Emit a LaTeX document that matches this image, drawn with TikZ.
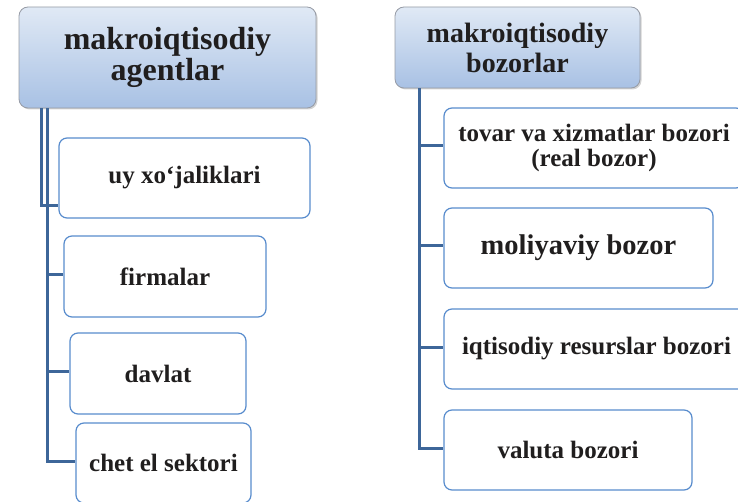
\documentclass[tikz,border=0pt]{standalone}
\usepackage{fontspec}
\setmainfont{Liberation Serif}
\usetikzlibrary{shadows}
\definecolor{boxblue}{RGB}{88,140,205}
\definecolor{linkblue}{RGB}{61,102,153}
\definecolor{headtop}{RGB}{224,233,245}
\definecolor{headbot}{RGB}{168,193,228}
\definecolor{headrim}{RGB}{150,155,165}
\definecolor{inktext}{RGB}{32,30,30}

\begin{document}
\begin{tikzpicture}[x=1pt, y=-1pt,
    header/.style={draw=headrim, line width=0.8pt, rounded corners=9pt,
        top color=headtop, bottom color=headbot, align=center, inner sep=0pt,
        text=inktext, drop shadow={shadow xshift=1.5pt, shadow yshift=-1.5pt, opacity=0.35}},
    childbox/.style={draw=boxblue, line width=1.2pt, rounded corners=8pt, fill=white,
        align=center, inner sep=0pt, minimum height=80pt, text=inktext,
        font=\fontsize{25}{25}\selectfont\bfseries},
    link/.style={draw=linkblue, line width=3pt}]
    \path[use as bounding box] (0,0) rectangle (738,502);
    \clip (0,0) rectangle (738,502);

    \node[header, minimum width=297pt, minimum height=101pt,
        font=\fontsize{32}{31}\selectfont\bfseries] (agents) at (167.5,57.5) {makroiqtisodiy\\agentlar};
    \node[header, minimum width=245pt, minimum height=81pt,
        font=\fontsize{28}{30}\selectfont\bfseries] (markets) at (517.5,47.5) {makroiqtisodiy\\bozorlar};

    \node[childbox, minimum width=251pt] (uy) at (184.5,178) {uy xo‘jaliklari};
    \node[childbox, minimum width=202pt, minimum height=81pt] (firmalar) at (165,276.5) {firmalar};
    \node[childbox, minimum width=176pt, minimum height=81pt] (davlat) at (158,373.5) {davlat};
    \node[childbox, minimum width=175pt] (chet) at (163.5,463) {chet el sektori};

    \node[childbox, minimum width=300pt] (tovar) at (594,148) {tovar va xizmatlar bozori\\(real bozor)};
    \node[childbox, minimum width=269pt, font=\fontsize{28.5}{30}\selectfont\bfseries] (moliya) at (578.5,248) {moliyaviy bozor};
    \node[childbox, minimum width=305pt] (resurs) at (596.5,349) {iqtisodiy resurslar bozori};
    \node[childbox, minimum width=248pt] (valuta) at (568,450) {valuta bozori};

    \draw[link] ([xshift=23pt]agents.south west) |- ([yshift=13pt]uy.south west);
    \foreach \n in {firmalar,davlat,chet}
        \draw[link] ([xshift=29pt]agents.south west) |- ([yshift=2pt]\n.west);
    \foreach \n in {tovar,moliya,resurs,valuta}
        \draw[link] ([xshift=25pt]markets.south west) |- ([yshift=2pt]\n.west);
\end{tikzpicture}
\end{document}
